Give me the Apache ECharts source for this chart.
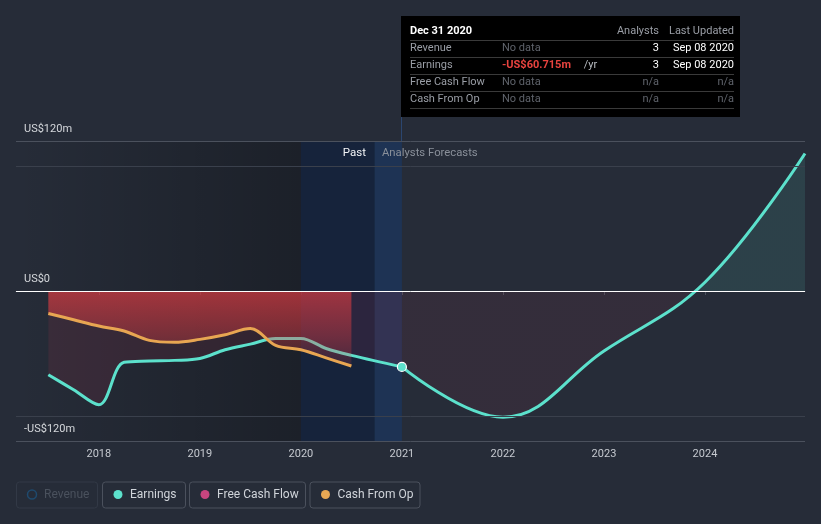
<!DOCTYPE html>
<html>
<head>
<meta charset="utf-8">
<script src="https://cdn.jsdelivr.net/npm/echarts@6/dist/echarts.min.js"></script>
<style>
html,body{margin:0;padding:0;background:#262c38;}
#c{width:821px;height:524px;}
</style>
</head>
<body>
<div id="c"></div>
<script>
// ---- data (x = decimal year, y = US$ millions) ----
const earningsPastX = [2017.5, 2017.75, 2018.0, 2018.25, 2018.5, 2018.75, 2019.0, 2019.25, 2019.5, 2019.75, 2020.0, 2020.25, 2020.5, 2021.0];
const earningsPastY = [-67, -79, -91, -57, -56, -55.5, -54, -47, -42.5, -38, -38, -46, -51.5, -60.715];
const earningsFcX = [2021.0, 2022.0, 2023.0, 2024.0, 2024.99];
const earningsFcY = [-60.715, -101, -48, 7, 110];
const cfoX = [2017.5, 2017.75, 2018.0, 2018.25, 2018.5, 2018.75, 2019.0, 2019.25, 2019.5, 2019.75, 2020.0, 2020.25, 2020.5];
const cfoY = [-18, -23, -28, -32, -39.5, -41, -38.7, -35, -30, -43.5, -47, -53.5, -60];
const yearTicks = [2018, 2019, 2020, 2021, 2022, 2023, 2024];
const yLabels = ['US$120m', 'US$0', '-US$120m'];
const legendNames = ['Revenue', 'Earnings', 'Free Cash Flow', 'Cash From Op'];
const tableHeader = ['Dec 31 2020', 'Analysts', 'Last Updated'];
const tableRows = [
  ['Revenue', 'No data', '', '3', 'Sep 08 2020'],
  ['Earnings', '-US$60.715m', ' /yr', '3', 'Sep 08 2020'],
  ['Free Cash Flow', 'No data', '', 'n/a', 'n/a'],
  ['Cash From Op', 'No data', '', 'n/a', 'n/a']
];
const X_MIN = 2017.18, X_MAX = 2024.99;
const PAST_END = 2020.0, FC_START = 2020.73, NOW = 2021.0;

const zip = (xs, ys) => xs.map((x, i) => [x, ys[i]]);
const FONT = 'Roboto';
const TEAL = '#5ce1cc', ORANGE = '#e8a652';

const pastData = zip(earningsPastX, earningsPastY).map((p, i, a) =>
  i === a.length - 1
    ? { value: p, symbol: 'circle', symbolSize: 9, itemStyle: { color: TEAL, borderColor: '#ffffff', borderWidth: 1.2 } }
    : { value: p });

const chart = echarts.init(document.getElementById('c'), null, { renderer: 'canvas' });

const graphic = [];
const G = (o) => { o.z = 100; graphic.push(o); };
// Past / Forecast labels
G({ type: 'text', x: 366, y: 153, style: { text: 'Past', fill: '#f2f3f5', font: '11.5px ' + FONT, align: 'right', verticalAlign: 'middle' } });
G({ type: 'text', x: 382, y: 153, style: { text: 'Analysts Forecasts', fill: '#8a909a', font: '11.3px ' + FONT, align: 'left', verticalAlign: 'middle' } });
// vertical connector line
G({ type: 'line', shape: { x1: 401.5, y1: 117, x2: 401.5, y2: 141 }, style: { stroke: '#2b4670', lineWidth: 1 } });
// tooltip-like table
G({ type: 'rect', shape: { x: 401, y: 16, width: 339, height: 101 }, style: { fill: '#000000' } });
G({ type: 'text', x: 410, y: 31, style: { text: tableHeader[0], fill: '#ffffff', font: 'bold 11px ' + FONT, verticalAlign: 'middle' } });
G({ type: 'text', x: 659, y: 31, style: { text: tableHeader[1], fill: '#9a9ea6', font: '11px ' + FONT, align: 'right', verticalAlign: 'middle' } });
G({ type: 'text', x: 734, y: 31, style: { text: tableHeader[2], fill: '#9a9ea6', font: '11px ' + FONT, align: 'right', verticalAlign: 'middle' } });
[40, 57, 74, 91, 108].forEach(y => G({ type: 'line', shape: { x1: 410, y1: y + 0.5, x2: 734, y2: y + 0.5 }, style: { stroke: '#3a3a3a', lineWidth: 1 } }));
tableRows.forEach((r, i) => {
  const y = 48 + i * 17;
  G({ type: 'text', x: 410, y, style: { text: r[0], fill: '#9a9ea6', font: '11px ' + FONT, verticalAlign: 'middle' } });
  const isVal = r[2] !== '';
  G({ type: 'text', x: 502, y, style: { text: r[1], fill: isVal ? '#e8433f' : '#5f636b', font: (isVal ? 'bold ' : '') + '11px ' + FONT, verticalAlign: 'middle' } });
  if (isVal) G({ type: 'text', x: 581, y, style: { text: r[2], fill: '#b8bcc2', font: '11px ' + FONT, verticalAlign: 'middle' } });
  const na = r[3] === 'n/a';
  G({ type: 'text', x: 659, y, style: { text: r[3], fill: na ? '#5f636b' : '#ffffff', font: '11px ' + FONT, align: 'right', verticalAlign: 'middle' } });
  G({ type: 'text', x: 734, y, style: { text: r[4], fill: na ? '#5f636b' : '#ffffff', font: '11px ' + FONT, align: 'right', verticalAlign: 'middle' } });
});
// legend
const legendBoxes = [[16, 81], [102, 83], [189, 116], [309.5, 110]];
const legendColors = ['#1f4a6e', TEAL, '#c8457f', '#e8a854'];
legendNames.forEach((n, i) => {
  const [bx, bw] = legendBoxes[i];
  const dim = i === 0;
  G({ type: 'rect', shape: { x: bx + 0.5, y: 482, width: bw, height: 26, r: 3 }, style: { fill: 'none', stroke: dim ? '#323946' : '#4b515d', lineWidth: 1 } });
  G({ type: 'circle', shape: { cx: bx + 16, cy: 494.5, r: 4.5 }, style: dim ? { fill: 'none', stroke: legendColors[i], lineWidth: 1.5 } : { fill: legendColors[i] } });
  G({ type: 'text', x: bx + 28, y: 494.5, style: { text: n, fill: dim ? '#4a515d' : '#d0d4da', font: '12px ' + FONT, verticalAlign: 'middle' } });
});

const option = {
  backgroundColor: '#262c38',
  animation: false,
  textStyle: { fontFamily: FONT },
  grid: { left: 16, right: 16, top: 141, bottom: 83 },
  xAxis: {
    type: 'value', min: X_MIN, max: X_MAX,
    splitLine: { show: false },
    axisLine: { show: true, lineStyle: { color: '#4b515d', width: 1 } },
    axisTick: { show: true, customValues: yearTicks, length: 4, lineStyle: { color: '#4b515d' } },
    axisLabel: { customValues: yearTicks, color: '#c6cad0', fontSize: 11, margin: 8, formatter: v => String(Math.round(v)) }
  },
  yAxis: {
    type: 'value', min: -120, max: 120,
    axisLine: { show: false }, axisTick: { show: false }, axisLabel: { show: false }, splitLine: { show: false }
  },
  graphic,
  series: [
    {
      name: 'bands', type: 'line', data: [], z: 1, silent: true,
      markArea: {
        silent: true,
        data: [
          [{ xAxis: X_MIN, itemStyle: { color: { type: 'linear', x: 0, y: 0, x2: 1, y2: 0, colorStops: [{ offset: 0, color: 'rgba(0,0,0,0)' }, { offset: 1, color: 'rgba(0,0,0,0.27)' }] } } }, { xAxis: PAST_END }],
          [{ xAxis: PAST_END, itemStyle: { color: 'rgba(10,30,62,0.55)' } }, { xAxis: FC_START }],
          [{ xAxis: FC_START, itemStyle: { color: 'rgba(20,62,125,0.42)' } }, { xAxis: NOW }]
        ]
      },
      markLine: {
        silent: true, symbol: 'none',
        data: [
          { yAxis: 120, lineStyle: { color: '#4b515d', width: 1, type: 'solid' }, label: { show: true, formatter: yLabels[0], position: 'insideStartTop', distance: [8, 6], color: '#d5d8dc', fontSize: 11 } },
          { yAxis: 100, lineStyle: { color: '#3a404c', width: 1, type: 'solid' }, label: { show: false } },
          { yAxis: 0, lineStyle: { color: '#ffffff', width: 1, type: 'solid' }, label: { show: true, formatter: yLabels[1], position: 'insideStartTop', distance: [8, 6], color: '#d5d8dc', fontSize: 11 } },
          { yAxis: -100, lineStyle: { color: '#3a404c', width: 1, type: 'solid' }, label: { show: false } },
          { yAxis: -120, lineStyle: { color: '#4b515d', width: 1, type: 'solid' }, label: { show: true, formatter: yLabels[2], position: 'insideStartTop', distance: [8, 6], color: '#d5d8dc', fontSize: 11 } }
        ]
      }
    },
    {
      name: 'Earnings', type: 'line', z: 2, data: pastData, smooth: 0.35, symbol: 'none', showSymbol: true,
      lineStyle: { color: TEAL, width: 3 },
      itemStyle: { color: TEAL },
      areaStyle: { color: 'rgba(190,55,85,0.19)' }
    },
    {
      name: 'Earnings forecast', type: 'line', z: 2, data: zip(earningsFcX, earningsFcY), smooth: 0.4, symbol: 'none',
      lineStyle: { color: TEAL, width: 3 },
      areaStyle: {
        color: { type: 'linear', global: true, x: 0, y: 141, x2: 0, y2: 441, colorStops: [
          { offset: 0, color: 'rgba(90,220,200,0.17)' }, { offset: 0.5017, color: 'rgba(90,220,200,0.17)' },
          { offset: 0.5017, color: 'rgba(190,55,85,0.13)' }, { offset: 1, color: 'rgba(190,55,85,0.13)' }] }
      }
    },
    {
      name: 'Cash From Op', type: 'line', z: 3, data: zip(cfoX, cfoY), smooth: 0.35, symbol: 'none',
      lineStyle: { color: ORANGE, width: 3 },
      areaStyle: {
        color: { type: 'linear', x: 0, y: 0, x2: 0, y2: 1, colorStops: [
          { offset: 0, color: 'rgba(236,62,66,0.86)' }, { offset: 0.6, color: 'rgba(236,62,66,0.5)' }, { offset: 1, color: 'rgba(236,62,66,0.2)' }] }
      }
    }
  ]
};
chart.setOption(option);
</script>
</body>
</html>
